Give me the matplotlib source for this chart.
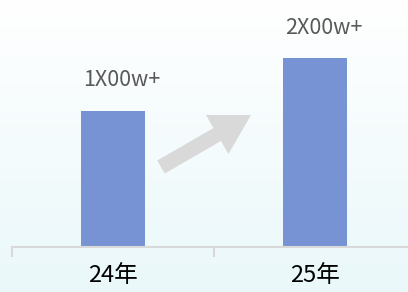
import numpy as np
from matplotlib import pyplot as plt
from matplotlib.colors import LinearSegmentedColormap
from matplotlib.patches import FancyArrow

plt.rcParams['font.family'] = ['Noto Sans CJK SC', 'DejaVu Sans']

# data
categories = ['24年', '25年']
values = [1440, 2000]
labels = ['1X00w+', '2X00w+']

W, H = 408, 292
fig = plt.figure(figsize=(W / 100, H / 100), dpi=100)

# background gradient + arrow, in pixel coords
bg = fig.add_axes([0, 0, 1, 1], zorder=0)
cmap = LinearSegmentedColormap.from_list('bg', ['#ffffff', '#eaf8fa'])
grad = np.linspace(0, 1, 256).reshape(-1, 1)
bg.imshow(grad, aspect='auto', cmap=cmap, extent=[0, W, H, 0])
bg.set_xlim(0, W)
bg.set_ylim(H, 0)
bg.axis('off')
bg.add_patch(FancyArrow(161, 167, 90, -52, width=15, head_width=45, head_length=39,
                        length_includes_head=True, color='#d9d9d9', lw=0))

# bars
ax = fig.add_axes([0, 0, 1, 1], zorder=1)
ax.set_facecolor('none')
x = np.arange(len(categories))
ax.bar(x, values, width=0.32, color='#7893d4')

for xi, v, lab in zip(x, values, labels):
    ax.annotate(lab, (xi, v), xytext=(6, 14), textcoords='offset points',
                ha='center', va='bottom', fontsize=15.5, color='#595959')

for s in ['top', 'left', 'right']:
    ax.spines[s].set_visible(False)
ax.spines['bottom'].set_position(('data', 0))
ax.spines['bottom'].set_bounds(-0.5, 1.5)
ax.spines['bottom'].set_color('#d9d9d9')
ax.spines['bottom'].set_linewidth(1.5)
ax.set_yticks([])
ax.set_xticks(x)
ax.set_xticklabels(categories, fontsize=17, color='black')
ax.tick_params(axis='x', which='major', length=0, pad=12)
ax.set_xticks([-0.5, 0.5, 1.5], minor=True)
ax.tick_params(axis='x', which='minor', length=7, width=1.5, color='#d9d9d9')

# limits last, so the ticks don't widen them
px_per_unit = 189 / 2000
ax.set_ylim(-45 / px_per_unit, 247 / px_per_unit)
ax.set_xlim(-0.5 - 12 / 202, -0.5 + (W - 12) / 202)

fig.savefig('out.png', dpi=100)
